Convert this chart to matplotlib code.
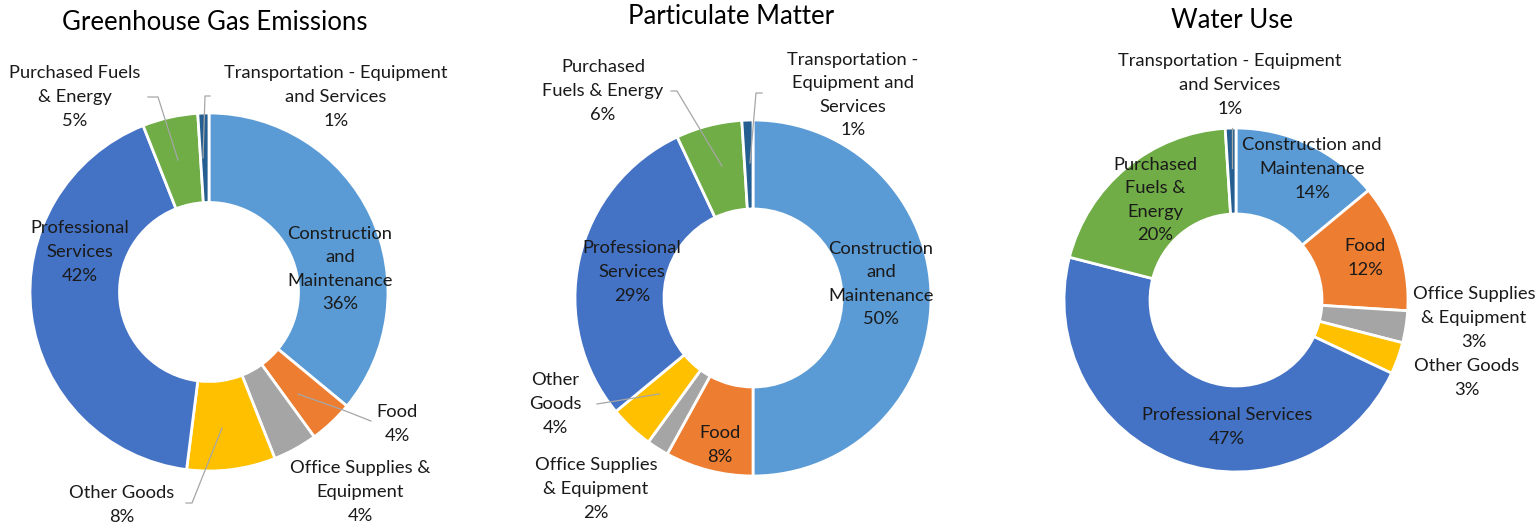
import matplotlib
matplotlib.use("Agg")
import matplotlib.pyplot as plt

plt.rcParams['font.family'] = ['Lato', 'DejaVu Sans']

W, H = 1538, 526

categories = ["Construction and Maintenance", "Food", "Office Supplies & Equipment",
              "Other Goods", "Professional Services", "Purchased Fuels & Energy",
              "Transportation - Equipment and Services"]
colors = ["#5B9BD5", "#ED7D31", "#A5A5A5", "#FFC000", "#4472C4", "#70AD47", "#255E91"]

ghg_values = [36, 4, 4, 8, 42, 5, 1]
pm_values = [50, 8, 2, 4, 29, 6, 1]
water_values = [14, 12, 3, 3, 47, 20, 1]

titles = ["Greenhouse Gas Emissions", "Particulate Matter", "Water Use"]

ghg_labels = ["Construction\nand\nMaintenance", "Food", "Office Supplies &\nEquipment",
              "Other Goods", "Professional\nServices", "Purchased Fuels\n& Energy",
              "Transportation - Equipment\nand Services"]
pm_labels = ["Construction\nand\nMaintenance", "Food", "Office Supplies\n& Equipment",
             "Other\nGoods", "Professional\nServices", "Purchased\nFuels & Energy",
             "Transportation -\nEquipment and\nServices"]
water_labels = ["Construction and\nMaintenance", "Food", "Office Supplies\n& Equipment",
                "Other Goods", "Professional Services", "Purchased\nFuels &\nEnergy",
                "Transportation - Equipment\nand Services"]

# layout (pixels)
charts = [
    dict(values=ghg_values, labels=ghg_labels, center=(209, 292), r=179, title_pos=(215, 22),
         label_pos=[(340, 269), (397, 424), (360, 492), (122, 505), (80, 252), (75, 97), (336, 97)],
         leaders={5: [(178, 160), (158, 97), (148, 97)], 6: [(203, 158), (205, 96), (210, 96)],
                  1: [(298, 394), (343, 410), (371, 421)], 3: [(222, 428), (192, 503), (186, 503)]}),
    dict(values=pm_values, labels=pm_labels, center=(753, 298), r=178, title_pos=(731, 17),
         label_pos=[(881, 284), (720, 445), (596, 489), (555, 404), (632, 272), (603, 91), (853, 95)],
         leaders={5: [(722, 166), (677, 91), (671, 91)], 6: [(750, 163), (756, 93), (762, 93)],
                  3: [(659, 394), (597, 404)]}),
    dict(values=water_values, labels=water_labels, center=(1236, 300), r=172, title_pos=(1232, 20),
         label_pos=[(1312, 169), (1365, 258), (1474, 318), (1467, 378), (1227, 427), (1155, 200), (1230, 85)],
         leaders={6: [(1232, 168), (1232, 128)]}),
]

fig = plt.figure(figsize=(W / 100, H / 100), dpi=100)
ax = fig.add_axes([0, 0, 1, 1])

def P(x, y):
    return (x, H - y)

for ch, title in zip(charts, titles):
    cx, cy = ch["center"]
    r = ch["r"]
    ax.pie(ch["values"], colors=colors, startangle=90, counterclock=False,
           center=P(cx, cy), radius=r, frame=True,
           wedgeprops=dict(width=r * 0.5, edgecolor="white", linewidth=2))
    tx, ty = ch["title_pos"]
    ax.text(*P(tx, ty), title, ha="center", va="center", fontsize=18.5, color="#000000")
    for i, (lab, val) in enumerate(zip(ch["labels"], ch["values"])):
        lx, ly = ch["label_pos"][i]
        ax.text(*P(lx, ly), f"{lab}\n{val}%", ha="center", va="center", fontsize=13.2,
                color="#1a1a1a", linespacing=1.58)
    for i, pts in ch["leaders"].items():
        xs = [p[0] for p in pts]
        ys = [H - p[1] for p in pts]
        ax.plot(xs, ys, color="#A6A6A6", lw=0.9, zorder=5)

ax.set_xlim(0, W)
ax.set_ylim(0, H)
ax.set_aspect("equal")
ax.axis("off")
fig.savefig("out.png", dpi=100, facecolor="white")
